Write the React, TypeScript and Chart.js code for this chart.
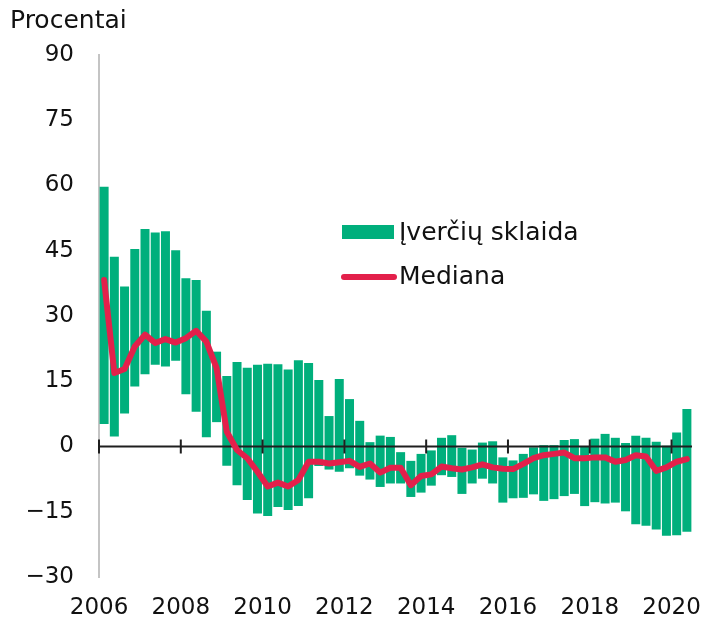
import React, { useEffect, useRef } from 'react';
import { Chart, registerables } from 'chart.js';

Chart.register(...registerables);

// ---- data ----
const years = [2006, 2007, 2008, 2009, 2010, 2011, 2012, 2013, 2014, 2015, 2016, 2017, 2018, 2019, 2020];
const quarters = ['I', 'II', 'III', 'IV'];
const quarterCount = 58; // 2006 I – 2020 II
const categories: string[] = [];
years.forEach((y) => quarters.forEach((q) => { if (categories.length < quarterCount) categories.push(`${y} ${q}`); }));

const labeledYears = [2006, 2008, 2010, 2012, 2014, 2016, 2018, 2020];
const yTicks = [-30, -15, 0, 15, 30, 45, 60, 75, 90];

const rangeHigh = [
  59.7, 43.6, 36.8, 45.4, 50.0, 49.2, 49.5, 45.1, 38.7, 38.3, 31.2, 21.8,
  16.2, 19.4, 18.1, 18.8, 19.0, 18.9, 17.7, 19.8, 19.2, 15.3, 7.0, 15.5,
  10.9, 5.9, 1.0, 2.5, 2.2, -1.3, -3.3, -1.7, -0.9, 2.0, 2.6, -0.3,
  -0.7, 0.9, 1.2, -2.5, -3.2, -1.7, -0.2, 0.3, 0.3, 1.5, 1.7, 0.0,
  1.8, 2.9, 2.0, 0.8, 2.5, 2.0, 1.1, 0.2, 3.2, 8.6,
];
const rangeLow = [
  5.2, 2.3, 7.6, 13.8, 16.6, 18.8, 18.4, 19.7, 12.0, 8.0, 2.1, 5.6,
  -4.4, -8.9, -12.3, -15.4, -16.0, -13.9, -14.6, -13.7, -11.9, -4.5, -5.3, -5.8,
  -5.0, -6.7, -7.6, -9.3, -8.5, -8.5, -11.6, -10.6, -9.0, -6.6, -7.0, -10.9,
  -8.5, -7.4, -8.5, -12.9, -11.9, -11.8, -11.0, -12.5, -12.1, -11.4, -10.9, -13.7,
  -12.8, -13.1, -12.9, -14.9, -17.9, -18.2, -19.1, -20.5, -20.4, -19.6,
];
const median = [
  38.3, 16.9, 17.8, 23.0, 25.7, 23.8, 24.7, 23.9, 24.9, 26.6, 24.1, 18.0,
  3.4, -0.8, -2.7, -5.8, -9.2, -8.3, -9.2, -7.7, -3.5, -3.5, -3.9, -3.6,
  -3.3, -4.7, -3.9, -6.0, -4.9, -4.9, -8.9, -6.8, -6.4, -4.6, -5.0, -5.3,
  -4.8, -4.1, -4.8, -5.1, -5.2, -4.0, -2.7, -2.0, -1.7, -1.4, -2.7, -2.7,
  -2.5, -2.5, -3.5, -3.1, -2.0, -2.3, -5.6, -4.8, -3.5, -2.9,
];

const GREEN = '#00AF7C';
const RED = '#E3204B';
const FONT = "'DejaVu Sans', Verdana, sans-serif";

const labelFor = (i: number) => {
  const [y, q] = categories[i].split(' ');
  return q === 'I' && labeledYears.includes(Number(y)) ? y : '';
};

const zeroLinePlugin = {
  id: 'zeroLine',
  afterDatasetDraw(chart: any, args: any) {
    if (args.index !== 0) return;
    const { ctx, chartArea, scales } = chart;
    const x = scales.x;
    const y0 = scales.y.getPixelForValue(0);
    const half = (x.getPixelForValue(1) - x.getPixelForValue(0)) / 2;
    ctx.save();
    ctx.strokeStyle = '#1f1f1f';
    ctx.lineWidth = 2;
    ctx.beginPath();
    ctx.moveTo(chartArea.left, y0);
    ctx.lineTo(chartArea.right, y0);
    categories.forEach((_, i) => {
      if (labelFor(i)) {
        const px = x.getPixelForValue(i) - half;
        ctx.moveTo(px, y0 - 7);
        ctx.lineTo(px, y0 + 7);
      }
    });
    ctx.stroke();
    ctx.restore();
  },
};

const legendPlugin = {
  id: 'insideLegend',
  afterDraw(chart: any) {
    const { ctx, chartArea } = chart;
    const ds = chart.data.datasets;
    const x0 = chartArea.left + 243;
    const rowY = [chartArea.top + 177, chartArea.top + 222];
    ctx.save();
    ctx.font = `25px ${FONT}`;
    ctx.textBaseline = 'middle';
    ctx.fillStyle = '#111';
    // bar item
    ctx.fillStyle = ds[0].backgroundColor;
    ctx.fillRect(x0, rowY[0] - 7, 52, 14);
    // line item
    ctx.strokeStyle = ds[1].borderColor;
    ctx.lineWidth = 6;
    ctx.lineCap = 'round';
    ctx.beginPath();
    ctx.moveTo(x0 + 2, rowY[1]);
    ctx.lineTo(x0 + 52, rowY[1]);
    ctx.stroke();
    ctx.fillStyle = '#111';
    ctx.fillText(ds[0].label, x0 + 57, rowY[0] + 1);
    ctx.fillText(ds[1].label, x0 + 57, rowY[1]);
    ctx.restore();
  },
};

export default function App() {
  const ref = useRef<HTMLCanvasElement | null>(null);
  useEffect(() => {
    if (!ref.current) return;
    const chart = new Chart(ref.current, {
      type: 'bar',
      data: {
        labels: categories,
        datasets: [
          {
            type: 'bar',
            label: 'Įverčių sklaida',
            data: rangeLow.map((lo, i) => [lo, rangeHigh[i]]),
            backgroundColor: GREEN,
            borderWidth: 0,
            barPercentage: 0.88,
            categoryPercentage: 1,
            order: 1,
          } as any,
          {
            type: 'line',
            label: 'Mediana',
            data: median,
            borderColor: RED,
            backgroundColor: RED,
            borderWidth: 6,
            borderJoinStyle: 'round',
            borderCapStyle: 'round',
            pointRadius: 0,
            tension: 0,
            order: 0,
          } as any,
        ],
      },
      options: {
        animation: false,
        responsive: true,
        maintainAspectRatio: false,
        layout: { padding: { left: 10, right: 17, top: 0, bottom: 0 } },
        plugins: {
          legend: { display: false },
          tooltip: { enabled: false },
          title: {
            display: true,
            text: 'Procentai',
            align: 'start',
            color: '#111',
            font: { family: FONT, size: 25, weight: 'normal' },
            padding: { top: 6, bottom: 19 },
          },
        },
        scales: {
          x: {
            type: 'category',
            offset: true,
            grid: { display: false, drawTicks: false },
            border: { display: false },
            ticks: {
              autoSkip: false,
              maxRotation: 0,
              padding: 17,
              labelOffset: -5.1,
              color: '#111',
              font: { family: FONT, size: 23 },
              callback: (_v: any, i: number) => labelFor(i),
            },
            afterFit: (s: any) => { s.height = 43; },
          },
          y: {
            min: -30,
            max: 90,
            afterBuildTicks: (s: any) => { s.ticks = yTicks.map((v) => ({ value: v })); },
            grid: { display: false, drawTicks: false },
            border: { display: true, color: '#c4c4c4', width: 2 },
            ticks: {
              padding: 25,
              color: '#111',
              font: { family: FONT, size: 23 },
              callback: (v: any) => (Number(v) < 0 ? '\u2212' + Math.abs(Number(v)) : String(v)),
            },
            afterFit: (s: any) => { s.width = 89; },
          },
        },
      },
      plugins: [zeroLinePlugin, legendPlugin],
    });
    return () => chart.destroy();
  }, []);

  return (
    <div style={{ position: 'fixed', left: 0, top: 0, width: 709, height: 620, background: '#fff' }}>
      <canvas ref={ref} />
    </div>
  );
}
